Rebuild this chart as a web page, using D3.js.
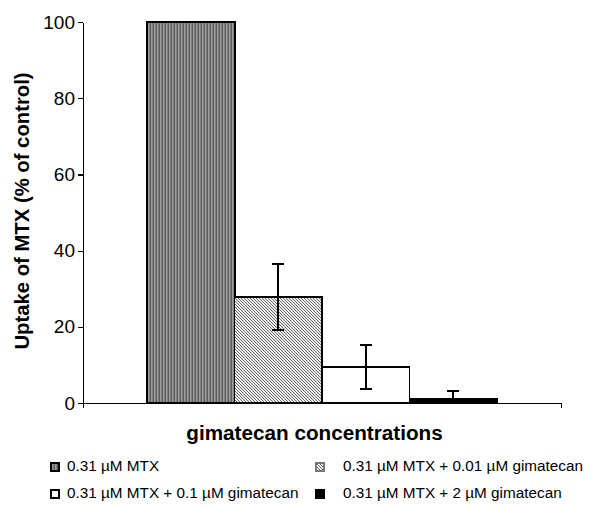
<!DOCTYPE html>
<html><head><meta charset="utf-8">
<script src="https://cdn.jsdelivr.net/npm/d3@7"></script>
<style>body{margin:0;background:#fff}svg{display:block;font-family:"Liberation Sans",Arial,sans-serif}</style>
</head><body>
<div id="chart"></div>
<script>
const categories = ["gimatecan concentrations"];
const series = ["0.31 µM MTX", "0.31 µM MTX + 0.01 µM gimatecan", "0.31 µM MTX + 0.1 µM gimatecan", "0.31 µM MTX + 2 µM gimatecan"];
const values = [100, 27.8, 9.4, 1.1];
const errors = [0, 8.6, 5.8, 2.1];
const yTicks = [0, 20, 40, 60, 80, 100];

(function () {
const W = 594, H = 506;
const svg = d3.select("#chart").append("svg").attr("width", W).attr("height", H)
  .attr("shape-rendering", "crispEdges");
const defs = svg.append("defs");

// patterns
const p1 = defs.append("pattern").attr("id","pStripe").attr("patternUnits","userSpaceOnUse").attr("width",3).attr("height",3);
p1.append("rect").attr("width",3).attr("height",3).attr("fill","#9c9c9c");
p1.append("rect").attr("width",1).attr("height",3).attr("fill","#5c5c5c");
p1.append("rect").attr("x",2).attr("width",1).attr("height",3).attr("fill","#808080");
const p2 = defs.append("pattern").attr("id","pHatch").attr("patternUnits","userSpaceOnUse").attr("width",3).attr("height",3);
p2.append("rect").attr("width",3).attr("height",3).attr("fill","#ececec");
[0,1,2].forEach(k => p2.append("rect").attr("x",k).attr("y",k).attr("width",1).attr("height",1).attr("fill","#6e6e6e"));
const fills = ["url(#pStripe)", "url(#pHatch)", "#ffffff", "#000000"];

const mLeft = 83, mRight = 561, mTop = 22, mBottom = 403;
const y = d3.scaleLinear().domain([0, 100]).range([mBottom, mTop]);
const x0 = d3.scaleBand().domain(categories).range([mLeft, mRight]).paddingInner(0).paddingOuter(0.183);
const x1 = d3.scaleBand().domain(series).range([0, x0.bandwidth()]).padding(0);

// bars
const g = svg.append("g");
categories.forEach(c => {
  series.forEach((s, i) => {
    const bx = x0(c) + x1(s);
    g.append("rect").attr("x", bx).attr("y", y(values[i])).attr("width", x1.bandwidth())
      .attr("height", y(0) - y(values[i])).attr("fill", fills[i]).attr("stroke", "#000").attr("stroke-width", i === 0 ? 2 : 1.5);
    if (errors[i] > 0) {
      const cx = bx + x1.bandwidth()/2;
      const lo = Math.max(0, values[i] - errors[i]), hi = values[i] + errors[i];
      const eb = g.append("g").attr("stroke","#000").attr("stroke-width",2);
      eb.append("line").attr("x1",cx).attr("x2",cx).attr("y1",y(lo)).attr("y2",y(hi));
      eb.append("line").attr("x1",cx-6).attr("x2",cx+6).attr("y1",y(hi)).attr("y2",y(hi));
      if (values[i] - errors[i] > 0) eb.append("line").attr("x1",cx-6).attr("x2",cx+6).attr("y1",y(lo)).attr("y2",y(lo));
    }
  });
});

// y axis
const yAxis = d3.axisLeft(y).tickValues(yTicks).tickSize(5).tickPadding(3).tickSizeOuter(0);
const ya = svg.append("g").attr("transform", `translate(${mLeft},0)`).call(yAxis);
ya.select(".domain").attr("stroke","#000").attr("stroke-width",1.2);
ya.selectAll(".tick line").attr("stroke","#000").attr("stroke-width",1.2);
ya.selectAll(".tick text").attr("font-size", 19).attr("fill","#000").attr("font-family","Liberation Sans, Arial, sans-serif");

// x axis
const xAxis = d3.axisBottom(d3.scaleLinear().domain([0,1]).range([mLeft,mRight])).tickValues([0,1]).tickSize(5).tickFormat("").tickSizeOuter(0);
const xa = svg.append("g").attr("transform", `translate(0,${mBottom})`).call(xAxis);
xa.select(".domain").attr("stroke","#000").attr("stroke-width",1.2);
xa.selectAll(".tick line").attr("stroke","#000").attr("stroke-width",1.2);

// titles
svg.append("text").attr("transform", `translate(29,211) rotate(-90)`).attr("text-anchor","middle")
  .attr("font-size",20.3).attr("font-weight","bold").attr("fill","#000").text("Uptake of MTX (% of control)");
svg.append("text").attr("x", 314.5).attr("y", 440).attr("text-anchor","middle")
  .attr("font-size",20.7).attr("font-weight","bold").attr("fill","#000").text(categories[0]);

// legend
const legPos = [[51,463],[316,463],[51,490],[316,490]];
const textX = [67, 343, 67, 343];
series.forEach((s, i) => {
  const [lx, ly] = legPos[i];
  svg.append("rect").attr("x", lx).attr("y", ly).attr("width", 8).attr("height", 8)
    .attr("fill", fills[i]).attr("stroke", i===1 ? "#777" : "#000").attr("stroke-width", 1.2);
  svg.append("text").attr("x", textX[i]).attr("y", ly + 8).attr("font-size", 15.3).attr("fill","#000").text(s);
});
})();
</script>
</body></html>
